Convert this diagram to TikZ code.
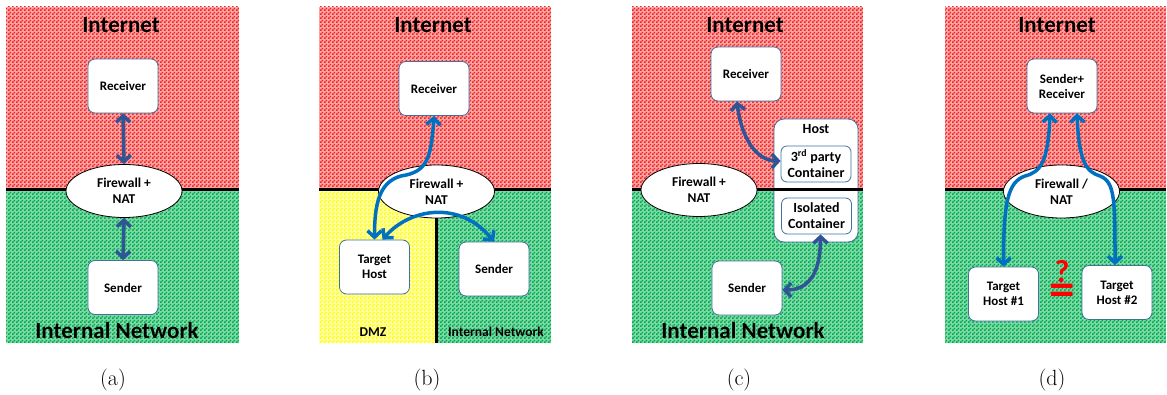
\documentclass[tikz,border=0pt]{standalone}
\usepackage{fontspec}
\newfontfamily\carl{Carlito}
\usetikzlibrary{shapes.geometric,arrows.meta,patterns,calc}
\pgfdeclarepatternformonly{chk}{\pgfpointorigin}{\pgfqpoint{4pt}{4pt}}{\pgfqpoint{4pt}{4pt}}{%
  \pgfpathrectangle{\pgfpointorigin}{\pgfqpoint{2pt}{2pt}}%
  \pgfpathrectangle{\pgfqpoint{2pt}{2pt}}{\pgfqpoint{2pt}{2pt}}%
  \pgfusepath{fill}}
\definecolor{reddark}{RGB}{240,35,35}
\definecolor{redlight}{RGB}{255,165,165}
\definecolor{greendark}{RGB}{0,168,80}
\definecolor{greenlight}{RGB}{125,218,165}
\definecolor{yellowdark}{RGB}{255,255,0}
\definecolor{yellowlight}{RGB}{255,255,175}
\definecolor{boxblue}{RGB}{65,113,156}
\definecolor{darkarrow}{RGB}{47,85,151}
\definecolor{brightarrow}{RGB}{0,112,192}
\definecolor{qred}{RGB}{255,0,0}
\tikzset{
  redzone/.style={fill=redlight, postaction={pattern=chk, pattern color=reddark}},
  greenzone/.style={fill=greenlight, postaction={pattern=chk, pattern color=greendark}},
  yellowzone/.style={fill=yellowlight, postaction={pattern=chk, pattern color=yellowdark}},
  border/.style={draw=black, line width=3pt},
  box/.style={draw=boxblue, line width=0.8pt, fill=white, rounded corners=7pt,
    minimum width=70pt, minimum height=54pt, align=center, inner sep=2pt,
    font=\carl\bfseries\fontsize{13}{15}\selectfont},
  hostbox/.style={draw=boxblue, line width=0.8pt, fill=white, rounded corners=10pt,
    minimum width=84pt, minimum height=123pt},
  contbox/.style={draw=boxblue, line width=0.8pt, fill=white, rounded corners=6pt,
    minimum width=70pt, minimum height=36pt, align=center, inner sep=1pt,
    font=\carl\bfseries\fontsize{14}{16}\selectfont},
  fw/.style={ellipse, draw=black, line width=0.8pt, fill=white, minimum width=116pt,
    minimum height=53pt, align=center, inner sep=0pt,
    font=\carl\bfseries\fontsize{13.5}{16}\selectfont},
  title/.style={font=\carl\bfseries\fontsize{23}{26}\selectfont},
  smalltitle/.style={font=\carl\bfseries\fontsize{13.5}{16}\selectfont},
  caption/.style={font=\fontsize{22}{26}\selectfont},
  hostlabel/.style={font=\carl\bfseries\fontsize{14}{16}\selectfont},
  redmark/.style={text=qred, inner sep=0pt, align=center,
    font=\carl\bfseries\fontsize{32}{18}\selectfont},
  darrow/.style={draw=darkarrow, line width=3.5pt, >={Straight Barb[length=6.5pt,width=14pt]}},
  barrow/.style={draw=brightarrow, line width=3.5pt, >={Straight Barb[length=6.5pt,width=14pt]}},
}
\begin{document}
\begin{tikzpicture}[x=1pt,y=-1pt]
\useasboundingbox (0,0) rectangle (1167,395);

% ---------- (a) ----------
\path[redzone] (6,7) rectangle (239,190);
\path[greenzone] (6,190) rectangle (239,343);
\draw[border] (6,190) -- (239,190);
\node[title] (tA) at (121,25) {Internet};
\node[title] (nA) at (117,331) {Internal Network};
\node[box] (recA) at (123,86) {Receiver};
\node[box] (sendA) at (123,287.5) {Sender};
\node[fw] (fwA) at (124,191) {Firewall +\\NAT};
\draw[darrow,<->] (recA.south) -- (fwA.north);
\draw[darrow,<->] (fwA.south) -- (sendA.north);
\node[caption] (capA) at (113,380) {(a)};

% ---------- (b) ----------
\path[redzone] (319,7) rectangle (551,190);
\path[yellowzone] (319,190) rectangle (436,343);
\path[greenzone] (436,190) rectangle (551,343);
\draw[border] (319,190) -- (551,190);
\draw[border] (436,190) -- (436,343);
\node[title] (tB) at (433,25) {Internet};
\node[smalltitle] (dmzB) at (373,332) {DMZ};
\node[smalltitle] (nB) at (496,332) {Internal Network};
\node[fw] (fwB) at (436.5,191.5) {Firewall +\\NAT};
\node[box] (recB) at (434,88.5) {Receiver};
\node[box] (tgtB) at (374.5,267) {Target\\Host};
\node[box] (sendB) at (494,269) {Sender};
\coordinate (b1) at (401,176);
\draw[barrow,<->] (recB.south) .. controls +(-3,45) and +(25,-4) .. (b1)
   .. controls +(-22,6) and +(0,-35) .. (tgtB.north);
\draw[barrow,<->] ($(tgtB.north)+(8,0)$) .. controls (410,208) and (460,200) .. (sendB.north);
\node[caption] (capB) at (427,380) {(b)};

% ---------- (c) ----------
\path[redzone] (632,7) rectangle (863,190);
\path[greenzone] (632,190) rectangle (863,343);
\node[hostbox] (hostC) at (816,180.5) {};
\draw[border] (632,190) -- (863,190);
\node[title] (tC) at (745,25) {Internet};
\node[title] (nC) at (743,331) {Internal Network};
\node[fw] (fwC) at (699,190) {Firewall +\\NAT};
\node[box] (recC) at (746,74) {Receiver};
\node[hostlabel] (hostL) at (816,129.5) {Host};
\node[contbox] (thirdC) at (816,164) {3\textsuperscript{rd} party\\Container};
\node[contbox] (isoC) at (816.5,216) {Isolated\\Container};
\node[box] (sendC) at (747,288) {Sender};
\draw[darrow,<->] ($(recC.south)+(-9,0)$) .. controls +(4,35) and +(-25,0) .. ($(thirdC.west)+(0,-3)$);
\draw[darrow,<->] ($(isoC.south)+(4,0)$) .. controls +(0,45) and +(22,0) .. ($(sendC.east)+(0,2)$);
\node[caption] (capC) at (739,380) {(c)};

% ---------- (d) ----------
\path[redzone] (945,7) rectangle (1166,190);
\path[greenzone] (945,190) rectangle (1166,343);
\draw[border] (945,190) -- (1166,190);
\node[title] (tD) at (1057,25) {Internet};
\node[fw] (fwD) at (1061.5,191.5) {Firewall /\\NAT};
\node[box] (srD) at (1062,86) {Sender+\\Receiver};
\node[box] (t1D) at (1003.5,294) {Target\\Host \#1};
\node[box] (t2D) at (1117,292.5) {Target\\Host \#2};
\coordinate (d1) at (1025,176);
\coordinate (d2) at (1100,176);
\draw[barrow,<->] ($(srD.south)+(-12,0)$) .. controls +(-2,50) and +(15,-4) .. (d1)
   .. controls +(-17,6) and +(0,-65) .. (t1D.north);
\draw[barrow,<->] ($(srD.south)+(15,0)$) .. controls +(2,50) and +(-13,-4) .. (d2)
   .. controls +(15,6) and +(0,-65) .. ($(t2D.north)+(-2,0)$);
\node[redmark] (qeD) at (1062,283) {?\\\scalebox{1.6}[1.5]{=}};
\node[caption] (capD) at (1052,380) {(d)};
\end{tikzpicture}
\end{document}
